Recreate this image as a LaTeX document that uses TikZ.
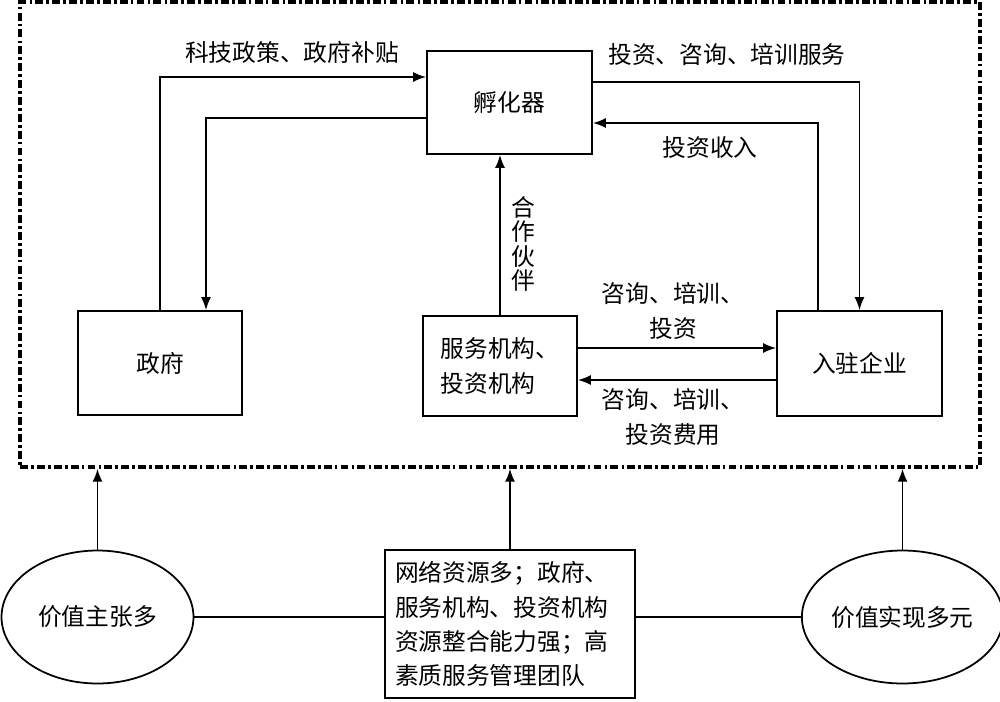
\documentclass[tikz,border=0pt]{standalone}
\usepackage{fontspec}
\newfontfamily\cjk{Noto Sans CJK SC}
\usetikzlibrary{arrows.meta, positioning, shapes.geometric}

\begin{document}
\begin{tikzpicture}[x=0.02cm, y=-0.02cm,
    font=\cjk\fontsize{13.5}{19.5}\selectfont,
    box/.style={draw, line width=1pt, inner sep=0pt},
    blob/.style={draw, ellipse, line width=1pt, inner sep=0pt},
    flow/.style={line width=1pt, -{Latex[length=2.6mm, width=2mm]}},
    link/.style={line width=1pt}]
    \useasboundingbox (0,0) rectangle (1000,701);
    % system frame
    \node[draw, line width=2pt, dash pattern=on 4.5pt off 1.8pt on 1.5pt off 1.8pt,
          minimum width=19.2cm, minimum height=9.3cm] (sys) at (500,234.5) {};
    % actors
    \node[box, minimum width=3.3cm, minimum height=2.06cm] (inc) at (509.5,102.5) {孵化器};
    \node[box, minimum width=3.28cm, minimum height=2.08cm] (gov) at (160,363) {政府};
    \node[box, minimum width=3.08cm, minimum height=2cm, align=left] (svc) at (500,366) {服务机构、\\投资机构};
    \node[box, minimum width=3.3cm, minimum height=2.1cm] (firm) at (859.5,363.5) {入驻企业};
    % value nodes
    \node[blob, minimum width=3.84cm, minimum height=2.66cm] (vl) at (97.5,617) {价值主张多};
    \node[blob, minimum width=3.88cm, minimum height=2.66cm] (vr) at (902.5,617) {价值实现多元};
    \node[box, minimum width=5cm, minimum height=2.96cm, text width=4.6cm, align=left] (res) at (510,624)
        {网络资源多；政府、\\服务机构、投资机构\\资源整合能力强；高\\素质服务管理团队};
    % flows
    \draw[flow] (gov.north) |- (inc.west |- 0,77);
    \draw[flow] (inc.west |- 0,118) -| (gov.north -| 206,0);
    \draw[flow] (inc.east |- 0,82) -| (firm.north);
    \draw[flow] (firm.north -| 818,0) |- (inc.east |- 0,123);
    \draw[flow] (svc.north) -- (svc.north |- inc.south);
    \draw[flow] (svc.east |- 0,348) -- (firm.west |- 0,348);
    \draw[flow] (firm.west |- 0,380) -- (svc.east |- 0,380);
    \draw[link] (vl.east) -- (vl.east -| res.west);
    \draw[link] (vr.west) -- (vr.west -| res.east);
    \draw[flow] (vl.north) -- (vl.north |- sys.south);
    \draw[flow] (res.north) -- (res.north |- sys.south);
    \draw[flow] (vr.north) -- (vr.north |- sys.south);
    % labels
    \node (policy) at (292,52) {科技政策、政府补贴};
    \node (service) at (727,55) {投资、咨询、培训服务};
    \node (income) at (710,148) {投资收入};
    \node[align=center, font=\cjk\fontsize{13.5}{13.8}\selectfont] (partner) at (523,244) {合\\作\\伙\\伴};
    \node[align=center] (offer) at (673,311) {咨询、培训、\\投资};
    \node[align=center] (fee) at (673,417) {咨询、培训、\\投资费用};
\end{tikzpicture}
\end{document}
